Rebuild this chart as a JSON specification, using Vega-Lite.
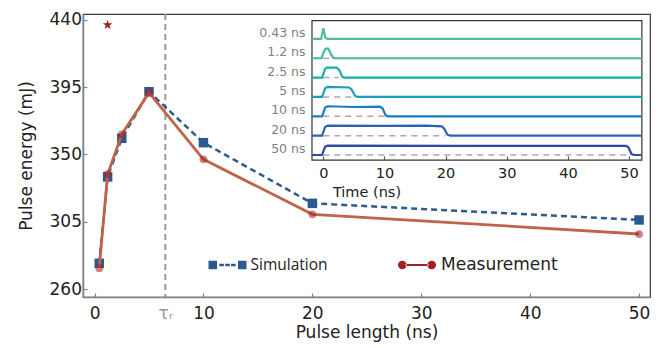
{
  "$schema": "https://vega.github.io/schema/vega-lite/v6.json",
  "width": 567,
  "height": 283,
  "autosize": "none",
  "padding": {"left": 83, "top": 14, "right": 13, "bottom": 51},
  "config": {
    "font": "DejaVu Sans",
    "view": {"stroke": "#3a3a3a", "strokeWidth": 1.2},
    "axis": {"grid": false, "labelColor": "#222222", "titleColor": "#222222", "titleFontWeight": "normal", "domainColor": "#808080", "domainWidth": 1.5, "tickColor": "#808080", "tickWidth": 1.2, "labelFont": "DejaVu Sans", "titleFont": "DejaVu Sans"}
  },
  "datasets": {
    "energy": [
      {"len": 0.43, "series": "Simulation", "E": 277.2},
      {"len": 1.2, "series": "Simulation", "E": 335.0},
      {"len": 2.5, "series": "Simulation", "E": 360.8},
      {"len": 5, "series": "Simulation", "E": 392.0},
      {"len": 10, "series": "Simulation", "E": 357.9},
      {"len": 20, "series": "Simulation", "E": 317.3},
      {"len": 50, "series": "Simulation", "E": 306.2},
      {"len": 0.43, "series": "Measurement", "E": 273.9},
      {"len": 1.2, "series": "Measurement", "E": 336.8},
      {"len": 2.5, "series": "Measurement", "E": 363.5},
      {"len": 5, "series": "Measurement", "E": 391.4},
      {"len": 10, "series": "Measurement", "E": 346.8},
      {"len": 20, "series": "Measurement", "E": 310.0},
      {"len": 50, "series": "Measurement", "E": 296.8}
    ],
    "tau": [{"tau": 6.5}],
    "starpt": [{"len": 1.2, "E": 436.7}],
    "insetframe": [{"tmin": -1.85, "tmax": 52.1, "vmin": -0.26, "vmax": 6.94}],
    "dashes": [
      {"p": "1.2 ns", "lvl": 5, "t0": 0, "t1": 1.2},
      {"p": "2.5 ns", "lvl": 4, "t0": 0, "t1": 2.5},
      {"p": "5 ns", "lvl": 3, "t0": 0, "t1": 5},
      {"p": "10 ns", "lvl": 2, "t0": 0, "t1": 10},
      {"p": "20 ns", "lvl": 1, "t0": 0, "t1": 20},
      {"p": "50 ns", "lvl": 0, "t0": 0, "t1": 50}
    ],
    "traces": [
      {"p": "0.43 ns", "t": -1.85, "v": 6.0},
      {"p": "0.43 ns", "t": -0.35, "v": 6.0},
      {"p": "0.43 ns", "t": 0.0, "v": 6.55},
      {"p": "0.43 ns", "t": 0.35, "v": 6.06},
      {"p": "0.43 ns", "t": 0.7, "v": 6.0},
      {"p": "0.43 ns", "t": 52.1, "v": 6.0},
      {"p": "1.2 ns", "t": -1.85, "v": 5.0},
      {"p": "1.2 ns", "t": -0.3, "v": 5.0},
      {"p": "1.2 ns", "t": 0.1, "v": 5.35},
      {"p": "1.2 ns", "t": 0.4, "v": 5.5},
      {"p": "1.2 ns", "t": 0.8, "v": 5.5},
      {"p": "1.2 ns", "t": 1.2, "v": 5.25},
      {"p": "1.2 ns", "t": 1.6, "v": 5.02},
      {"p": "1.2 ns", "t": 2.0, "v": 5.0},
      {"p": "1.2 ns", "t": 52.1, "v": 5.0},
      {"p": "2.5 ns", "t": -1.85, "v": 4.0},
      {"p": "2.5 ns", "t": -0.2, "v": 4.0},
      {"p": "2.5 ns", "t": 0.3, "v": 4.45},
      {"p": "2.5 ns", "t": 0.6, "v": 4.52},
      {"p": "2.5 ns", "t": 2.2, "v": 4.52},
      {"p": "2.5 ns", "t": 2.6, "v": 4.4},
      {"p": "2.5 ns", "t": 3.1, "v": 4.05},
      {"p": "2.5 ns", "t": 3.4, "v": 4.0},
      {"p": "2.5 ns", "t": 52.1, "v": 4.0},
      {"p": "5 ns", "t": -1.85, "v": 3.0},
      {"p": "5 ns", "t": -0.2, "v": 3.0},
      {"p": "5 ns", "t": 0.3, "v": 3.45},
      {"p": "5 ns", "t": 0.7, "v": 3.52},
      {"p": "5 ns", "t": 4.2, "v": 3.49},
      {"p": "5 ns", "t": 4.6, "v": 3.4},
      {"p": "5 ns", "t": 5.2, "v": 3.05},
      {"p": "5 ns", "t": 5.6, "v": 3.0},
      {"p": "5 ns", "t": 52.1, "v": 3.0},
      {"p": "10 ns", "t": -1.85, "v": 2.0},
      {"p": "10 ns", "t": -0.2, "v": 2.0},
      {"p": "10 ns", "t": 0.3, "v": 2.45},
      {"p": "10 ns", "t": 0.7, "v": 2.52},
      {"p": "10 ns", "t": 5.0, "v": 2.48},
      {"p": "10 ns", "t": 9.3, "v": 2.5},
      {"p": "10 ns", "t": 9.7, "v": 2.4},
      {"p": "10 ns", "t": 10.2, "v": 2.05},
      {"p": "10 ns", "t": 10.6, "v": 2.0},
      {"p": "10 ns", "t": 52.1, "v": 2.0},
      {"p": "20 ns", "t": -1.85, "v": 1.0},
      {"p": "20 ns", "t": -0.2, "v": 1.0},
      {"p": "20 ns", "t": 0.3, "v": 1.45},
      {"p": "20 ns", "t": 0.7, "v": 1.52},
      {"p": "20 ns", "t": 10.0, "v": 1.5},
      {"p": "20 ns", "t": 17.0, "v": 1.52},
      {"p": "20 ns", "t": 19.4, "v": 1.48},
      {"p": "20 ns", "t": 19.8, "v": 1.35},
      {"p": "20 ns", "t": 20.3, "v": 1.05},
      {"p": "20 ns", "t": 20.8, "v": 1.0},
      {"p": "20 ns", "t": 52.1, "v": 1.0},
      {"p": "50 ns", "t": -1.85, "v": 0.0},
      {"p": "50 ns", "t": -0.2, "v": 0.0},
      {"p": "50 ns", "t": 0.3, "v": 0.43},
      {"p": "50 ns", "t": 0.7, "v": 0.48},
      {"p": "50 ns", "t": 25.0, "v": 0.47},
      {"p": "50 ns", "t": 49.5, "v": 0.47},
      {"p": "50 ns", "t": 49.9, "v": 0.4},
      {"p": "50 ns", "t": 50.4, "v": 0.05},
      {"p": "50 ns", "t": 50.8, "v": 0.0},
      {"p": "50 ns", "t": 52.1, "v": 0.0}
    ]
  },
  "resolve": {"scale": {"x": "independent", "y": "independent", "color": "independent", "fill": "independent"}, "axis": {"x": "independent", "y": "independent"}},
  "layer": [
    {
      "layer": [
        {
          "data": {"name": "tau"},
          "mark": {"type": "rule", "color": "#9a9a9a", "strokeDash": [6, 4], "strokeWidth": 2},
          "encoding": {
            "x": {"field": "tau", "type": "quantitative", "scale": {"domain": [-1.06, 51.0], "nice": false, "zero": false},
              "axis": {"orient": "top", "values": [0, 10, 20, 30, 40, 50], "labels": false, "domain": false, "tickSize": -4, "title": null, "tickColor": "#555555"}}
          }
        },
        {
          "data": {"name": "energy"},
          "transform": [{"filter": "datum.series == 'Simulation'"}],
          "mark": {"type": "line", "color": "#2b5b8c", "strokeDash": [6, 4], "strokeWidth": 2.5},
          "encoding": {
            "x": {"field": "len", "type": "quantitative", "scale": {"domain": [-1.06, 51.0], "nice": false, "zero": false}, "axis": null},
            "y": {"field": "E", "type": "quantitative", "scale": {"domain": [254.65, 444.0], "nice": false, "zero": false},
              "axis": {"orient": "right", "values": [260, 305, 350, 395, 440], "labels": false, "domain": false, "tickSize": -4, "title": null, "tickColor": "#555555"}}
          }
        },
        {
          "data": {"name": "energy"},
          "transform": [{"filter": "datum.series == 'Simulation'"}],
          "mark": {"type": "point", "shape": "square", "filled": true, "size": 90, "opacity": 1},
          "encoding": {
            "x": {"field": "len", "type": "quantitative", "scale": {"domain": [-1.06, 51.0], "nice": false, "zero": false}, "axis": null},
            "y": {"field": "E", "type": "quantitative", "scale": {"domain": [254.65, 444.0], "nice": false, "zero": false}, "axis": null},
            "color": {"field": "series", "type": "nominal", "scale": {"domain": ["Simulation"], "range": ["#2b5b8c"]},
              "legend": {"orient": "none", "legendX": 125.5, "legendY": 232, "title": null, "padding": 0,
                "symbolType": "M-1,-0.224H-0.553V0.224H-1Z M0.553,-0.224H1V0.224H0.553Z M-0.43,-0.06H-0.19V0.06H-0.43Z M-0.12,-0.06H0.12V0.06H-0.12Z M0.19,-0.06H0.43V0.06H0.19Z",
                "symbolSize": 1444, "symbolStrokeWidth": 0, "labelOffset": 4, "labelColor": "#222222", "labelFont": "Open Sans", "labelFontSize": 15.5, "labelLimit": 300}}
          }
        },
        {
          "data": {"name": "energy"},
          "transform": [{"filter": "datum.series == 'Measurement'"}],
          "mark": {"type": "line", "color": "#c0634b", "strokeWidth": 2.8},
          "encoding": {
            "x": {"field": "len", "type": "quantitative", "scale": {"domain": [-1.06, 51.0], "nice": false, "zero": false}, "axis": null},
            "y": {"field": "E", "type": "quantitative", "scale": {"domain": [254.65, 444.0], "nice": false, "zero": false}, "axis": null}
          }
        },
        {
          "data": {"name": "energy"},
          "transform": [{"filter": "datum.series == 'Measurement'"}],
          "mark": {"type": "point", "shape": "circle", "filled": true, "size": 60, "fillOpacity": 0.55},
          "encoding": {
            "x": {"field": "len", "type": "quantitative", "scale": {"domain": [-1.06, 51.0], "nice": false, "zero": false}, "axis": null},
            "y": {"field": "E", "type": "quantitative", "scale": {"domain": [254.65, 444.0], "nice": false, "zero": false}, "axis": null},
            "fill": {"field": "series", "type": "nominal", "scale": {"domain": ["Measurement"], "range": ["#a31f24"]},
              "legend": {"orient": "none", "legendX": 315, "legendY": 232, "title": null, "padding": 0,
                "symbolType": "M-1,0A0.226,0.226 0 1,0 -0.548,0A0.226,0.226 0 1,0 -1,0Z M0.548,0A0.226,0.226 0 1,0 1,0A0.226,0.226 0 1,0 0.548,0Z M-0.6,-0.055H0.6V0.055H-0.6Z",
                "symbolSize": 1444, "symbolStrokeWidth": 0, "symbolOpacity": 1, "symbolFillColor": "#a31f24", "labelOffset": 5, "labelColor": "#222222", "labelFont": "DejaVu Sans", "labelFontSize": 17, "labelLimit": 300}}
          }
        }
      ]
    },
    {
      "data": {"name": "starpt"},
      "mark": {"type": "point", "shape": "M0,-1L0.235,-0.324L0.951,-0.309L0.38,0.124L0.588,0.809L0,0.4L-0.588,0.809L-0.38,0.124L-0.951,-0.309L-0.235,-0.324Z", "filled": true, "size": 100, "color": "#a31f24", "opacity": 1},
      "encoding": {
        "x": {"field": "len", "type": "quantitative", "scale": {"domain": [-1.06, 51.0], "nice": false, "zero": false},
          "axis": {"orient": "bottom", "values": [0, 6.5, 10, 20, 30, 40, 50], "labelExpr": "datum.value == 6.5 ? 'τᵣ' : datum.label",
            "labelColor": {"condition": {"test": "datum.value == 6.5", "value": "#9a9a9a"}, "value": "#222222"},
            "tickOpacity": {"condition": {"test": "datum.value == 6.5", "value": 0}, "value": 1},
            "tickSize": -4, "labelPadding": 12, "labelFontSize": 17, "labelOverlap": false, "labelFlush": false, "zindex": 1,
            "title": "Pulse length (ns)", "titleFontSize": 17, "titlePadding": 3}},
        "y": {"field": "E", "type": "quantitative", "scale": {"domain": [254.65, 444.0], "nice": false, "zero": false},
          "axis": {"orient": "left", "values": [260, 305, 350, 395, 440], "tickSize": -4, "labelPadding": 5.5, "labelFontSize": 17, "zindex": 1,
            "title": "Pulse energy (mJ)", "titleFontSize": 17, "titlePadding": 14}}
      }
    },
    {
      "layer": [
        {
          "data": {"name": "insetframe"},
          "mark": {"type": "rect", "fill": "white", "stroke": "#333333", "strokeWidth": 1.2},
          "encoding": {
            "x": {"field": "tmin", "type": "quantitative", "scale": {"domain": [-39.3, 53.43], "nice": false, "zero": false},
              "axis": {"orient": "top", "offset": -6.7, "values": [0, 10, 20, 30, 40, 50], "labels": false, "domain": false, "tickSize": -4, "title": null, "zindex": 1, "tickColor": "#555555"}},
            "x2": {"field": "tmax"},
            "y": {"field": "vmin", "type": "quantitative", "scale": {"domain": [-7.339, 7.287], "nice": false, "zero": false}, "axis": null},
            "y2": {"field": "vmax"}
          }
        },
        {
          "data": {"name": "dashes"},
          "mark": {"type": "rule", "color": "#aaaaaa", "strokeDash": [6, 5], "strokeWidth": 1.5},
          "encoding": {
            "x": {"field": "t0", "type": "quantitative", "scale": {"domain": [-39.3, 53.43], "nice": false, "zero": false}, "axis": null},
            "x2": {"field": "t1"},
            "y": {"field": "lvl", "type": "quantitative", "scale": {"domain": [-7.339, 7.287], "nice": false, "zero": false}, "axis": null}
          }
        }
      ]
    },
    {
      "data": {"name": "traces"},
      "mark": {"type": "line", "strokeWidth": 2.2},
      "encoding": {
        "x": {"field": "t", "type": "quantitative", "scale": {"domain": [-39.3, 53.43], "nice": false, "zero": false},
          "axis": {"orient": "bottom", "offset": -137, "values": [0, 10, 20, 30, 40, 50], "domain": false, "tickSize": -4, "tickColor": "#555555", "labelPadding": 10, "labelFontSize": 14.5, "labelFlush": false, "labelOverlap": false, "zindex": 1,
            "title": "Time (ns)", "titleFontSize": 14.5, "titlePadding": 6}},
        "y": {"field": "v", "type": "quantitative", "scale": {"domain": [-7.339, 7.287], "nice": false, "zero": false},
          "axis": {"orient": "left", "offset": -229, "values": [0.33, 1.33, 2.33, 3.33, 4.33, 5.33, 6.33],
            "labelExpr": "['50 ns','20 ns','10 ns','5 ns','2.5 ns','1.2 ns','0.43 ns'][floor(datum.value)]",
            "ticks": false, "domain": false, "labelPadding": 7, "labelFontSize": 12.5, "labelColor": "#808080", "title": null, "zindex": 1, "labelOverlap": false}},
        "color": {"field": "p", "type": "nominal",
          "scale": {"domain": ["0.43 ns", "1.2 ns", "2.5 ns", "5 ns", "10 ns", "20 ns", "50 ns"], "range": ["#4fc08d", "#3dbd98", "#14b0a4", "#1a9dc0", "#1a7ec6", "#2a62b4", "#2d4ba3"]},
          "legend": null}
      }
    }
  ]
}
